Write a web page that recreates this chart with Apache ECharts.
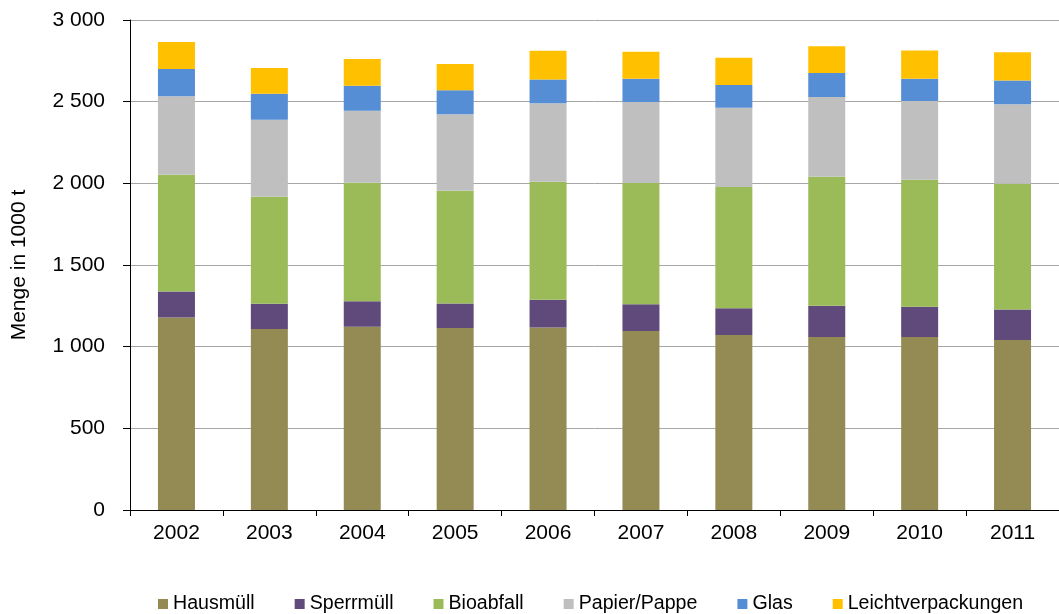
<!DOCTYPE html>
<html>
<head>
<meta charset="utf-8">
<script src="https://cdn.jsdelivr.net/npm/echarts@6/dist/echarts.min.js"></script>
<style>
  html, body { margin: 0; padding: 0; background: #fff; }
  #chart { width: 1059px; height: 614px; }
</style>
</head>
<body>
<div id="chart"></div>
<script>
// Haushaltsabfälle nach Fraktion, 2002–2011 (Menge in 1000 t)
const years = ['2002', '2003', '2004', '2005', '2006', '2007', '2008', '2009', '2010', '2011'];
const hausmuell = [1178, 1108, 1122, 1114, 1118, 1096, 1071, 1059, 1059, 1041];
const sperrmuell = [159, 155, 156, 151, 170, 163, 164, 192, 186, 186];
const bioabfall = [716, 655, 726, 690, 722, 743, 743, 790, 777, 771];
const papierPappe = [480, 472, 441, 468, 480, 496, 485, 488, 482, 486];
const glas = [167, 159, 153, 147, 145, 143, 139, 147, 137, 145];
const leichtverpackungen = [165, 157, 163, 161, 177, 165, 167, 163, 173, 173];

const seriesDefs = [
  { name: 'Hausmüll', data: hausmuell, color: '#948A54' },
  { name: 'Sperrmüll', data: sperrmuell, color: '#604A7B' },
  { name: 'Bioabfall', data: bioabfall, color: '#9BBB59' },
  { name: 'Papier/Pappe', data: papierPappe, color: '#BFBFBF' },
  { name: 'Glas', data: glas, color: '#558ED5' },
  { name: 'Leichtverpackungen', data: leichtverpackungen, color: '#FFC000' }
];

const FONT = 'Liberation Sans, Arial, sans-serif';

// thousands separated by a space: 2500 -> "2 500"
function fmt(v) {
  return String(v).replace(/\B(?=(\d{3})+(?!\d))/g, ' ');
}

const chart = echarts.init(document.getElementById('chart'), null, { renderer: 'canvas' });

chart.setOption({
  animation: false,
  backgroundColor: '#ffffff',
  textStyle: { fontFamily: FONT },
  grid: { left: 130, top: 20, width: 935, height: 490 },
  legend: {
    left: 158,
    top: 594,
    padding: 0,
    icon: 'rect',
    itemWidth: 10,
    itemHeight: 10,
    itemGap: 40,
    textStyle: { fontFamily: FONT, fontSize: 19.6, color: '#000' },
    data: seriesDefs.map(s => s.name)
  },
  xAxis: {
    type: 'category',
    data: years,
    axisLine: { lineStyle: { color: '#000', width: 1 } },
    axisTick: { show: true, length: 6, lineStyle: { color: '#000' } },
    axisLabel: { fontFamily: FONT, fontSize: 21, color: '#000', margin: 13 }
  },
  yAxis: {
    type: 'value',
    min: 0,
    max: 3000,
    interval: 500,
    name: 'Menge in 1000 t',
    nameLocation: 'middle',
    nameGap: 100,
    nameTextStyle: { fontFamily: FONT, fontSize: 21, color: '#000' },
    axisLine: { show: true, lineStyle: { color: '#000', width: 1 } },
    axisTick: { show: true, length: 7, lineStyle: { color: '#000' } },
    axisLabel: { fontFamily: FONT, fontSize: 21, color: '#000', margin: 25, formatter: fmt },
    splitLine: { show: true, lineStyle: { color: '#A6A6A6', width: 1 } }
  },
  series: seriesDefs.map(s => ({
    name: s.name,
    type: 'bar',
    stack: 'total',
    barWidth: 37,
    data: s.data,
    itemStyle: { color: s.color }
  }))
});
</script>
</body>
</html>
